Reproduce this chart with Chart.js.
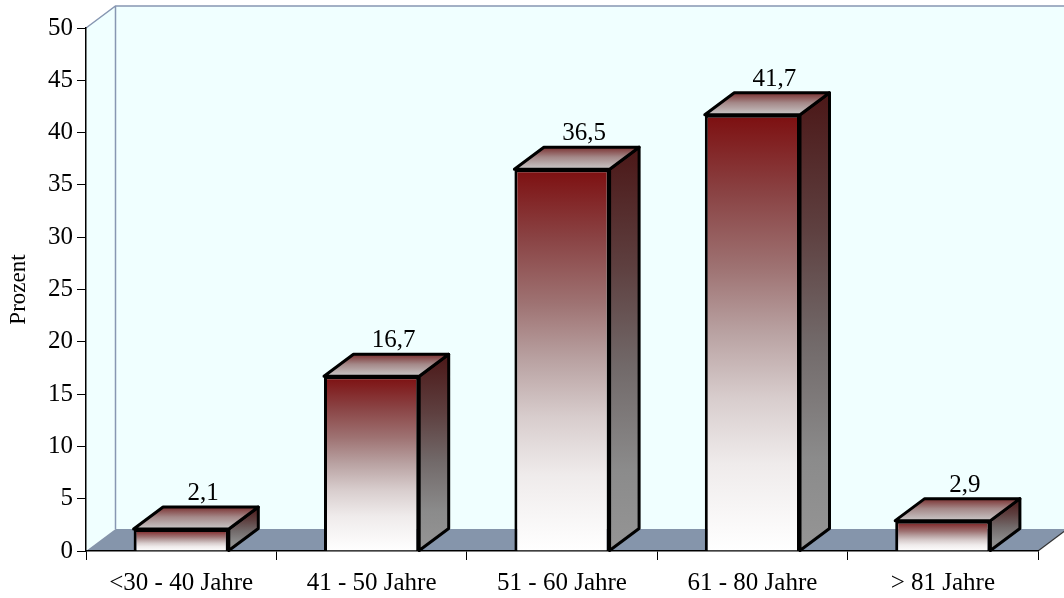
<!DOCTYPE html>
<html>
<head>
<meta charset="utf-8">
<title>Altersverteilung</title>
<script src="https://cdn.jsdelivr.net/npm/chart.js@4/dist/chart.umd.min.js"></script>
<style>
  html, body { margin: 0; padding: 0; background: #ffffff; }
  canvas { display: block; }
</style>
</head>
<body>
<canvas id="chart" width="1064" height="598"></canvas>
<script>
// Altersgruppen und Anteil in Prozent
const categories = ['<30 - 40 Jahre', '41 - 50 Jahre', '51 - 60 Jahre', '61 - 80 Jahre', '> 81 Jahre'];
const anteil = [2.1, 16.7, 36.5, 41.7, 2.9];
const yMin = 0;
const yMax = 50;
const yStep = 5;

// Tiefe der 3D-Darstellung (Versatz nach hinten)
const DX = 29.5;
const DY = -22;

const FONT = "'Liberation Serif', 'Times New Roman', serif";
const WALL = '#F0FFFF';
const WALL_EDGE = '#8797B2';
const FLOOR = '#8595AB';

function fmt(v) {
  return v.toFixed(1).replace('.', ',');
}

// Vorderseite: dunkelrot oben, nach unten weiß
function frontFill(ctx) {
  const chart = ctx.chart;
  if (!chart.chartArea || ctx.type !== 'data') return '#b09090';
  const y = chart.scales.y;
  const top = y.getPixelForValue(ctx.raw);
  const base = y.getPixelForValue(0);
  const g = chart.ctx.createLinearGradient(0, top, 0, base);
  g.addColorStop(0.00, '#7d0f10');
  g.addColorStop(0.18, '#8a4344');
  g.addColorStop(0.35, '#9e7272');
  g.addColorStop(0.50, '#b9a2a2');
  g.addColorStop(0.65, '#d8cdcd');
  g.addColorStop(0.80, '#efebeb');
  g.addColorStop(1.00, '#ffffff');
  return g;
}

// Raum: Rückwand, Seitenwand und Boden
const roomPlugin = {
  id: 'room',
  beforeDraw(chart) {
    const { ctx, chartArea: a } = chart;
    const L = a.left, R = a.right, T = a.top, B = a.bottom;
    ctx.save();
    // Rückwand
    ctx.fillStyle = WALL;
    ctx.fillRect(L + DX, T + DY, chart.width, B - T);
    // Seitenwand links
    ctx.beginPath();
    ctx.moveTo(L, T);
    ctx.lineTo(L + DX, T + DY);
    ctx.lineTo(L + DX, B + DY);
    ctx.lineTo(L, B);
    ctx.closePath();
    ctx.fill();
    // Boden
    ctx.fillStyle = FLOOR;
    ctx.beginPath();
    ctx.moveTo(L, B);
    ctx.lineTo(L + DX, B + DY);
    ctx.lineTo(R + DX, B + DY);
    ctx.lineTo(R, B);
    ctx.closePath();
    ctx.fill();
    // Kanten der Wand
    ctx.strokeStyle = WALL_EDGE;
    ctx.lineWidth = 1.5;
    ctx.beginPath();
    ctx.moveTo(L, T);
    ctx.lineTo(L + DX, T + DY);
    ctx.lineTo(chart.width + 5, T + DY);
    ctx.moveTo(L + DX, T + DY);
    ctx.lineTo(L + DX, B + DY);
    ctx.stroke();
    // rechte Bodenkante
    ctx.strokeStyle = '#333';
    ctx.lineWidth = 1.2;
    ctx.beginPath();
    ctx.moveTo(R, B);
    ctx.lineTo(R + DX, B + DY);
    ctx.stroke();
    ctx.restore();
  }
};

// Ober- und Seitenflächen der Säulen sowie Wertbeschriftung
const boxPlugin = {
  id: 'box3d',
  afterDatasetsDraw(chart) {
    const { ctx } = chart;
    const meta = chart.getDatasetMeta(0);
    const values = chart.data.datasets[0].data;
    ctx.save();
    ctx.lineJoin = 'round';
    ctx.lineWidth = 3;
    ctx.strokeStyle = '#000';
    meta.data.forEach((bar, i) => {
      const { x, y, base, width } = bar.getProps(['x', 'y', 'base', 'width'], true);
      const l = x - width / 2;
      const r = x + width / 2;

      // Seitenfläche
      const gs = ctx.createLinearGradient(0, y + DY, 0, base);
      gs.addColorStop(0.00, '#4b1717');
      gs.addColorStop(0.30, '#5e4040');
      gs.addColorStop(0.55, '#726a6a');
      gs.addColorStop(0.80, '#8b8b8b');
      gs.addColorStop(1.00, '#959595');
      ctx.fillStyle = gs;
      ctx.beginPath();
      ctx.moveTo(r, y);
      ctx.lineTo(r + DX, y + DY);
      ctx.lineTo(r + DX, base + DY);
      ctx.lineTo(r, base);
      ctx.closePath();
      ctx.fill();
      ctx.stroke();

      // Oberseite
      const gt = ctx.createLinearGradient(0, y + DY, 0, y);
      gt.addColorStop(0.00, '#7a3030');
      gt.addColorStop(0.45, '#a48888');
      gt.addColorStop(1.00, '#cac8c8');
      ctx.fillStyle = gt;
      ctx.beginPath();
      ctx.moveTo(l, y);
      ctx.lineTo(l + DX, y + DY);
      ctx.lineTo(r + DX, y + DY);
      ctx.lineTo(r, y);
      ctx.closePath();
      ctx.fill();
      ctx.stroke();

      // Wert
      ctx.fillStyle = '#000';
      ctx.font = '25px ' + FONT;
      ctx.textAlign = 'center';
      ctx.textBaseline = 'alphabetic';
      ctx.fillText(fmt(values[i]), x + 22, y + DY - 7);
    });
    ctx.restore();
  }
};

new Chart(document.getElementById('chart'), {
  type: 'bar',
  data: {
    labels: categories,
    datasets: [{
      data: anteil,
      backgroundColor: frontFill,
      borderColor: '#000',
      borderWidth: 3,
      barPercentage: 0.5,
      categoryPercentage: 1.0
    }]
  },
  options: {
    responsive: false,
    animation: false,
    layout: { padding: { top: 28, right: 26, left: 0, bottom: 0 } },
    plugins: {
      legend: { display: false },
      tooltip: { enabled: false }
    },
    scales: {
      x: {
        afterFit(scale) { scale.height = 47; },
        grid: {
          display: true,
          offset: true,
          drawOnChartArea: false,
          drawTicks: true,
          tickLength: 9,
          color: '#000',
          lineWidth: 1
        },
        border: { display: true, color: '#000', width: 1.5 },
        ticks: {
          color: '#000',
          padding: 8,
          maxRotation: 0,
          autoSkip: false,
          font: { family: FONT, size: 25 }
        }
      },
      y: {
        min: yMin,
        max: yMax,
        afterFit(scale) { scale.width = 86; },
        grid: {
          display: true,
          drawOnChartArea: false,
          drawTicks: true,
          tickLength: 9,
          color: '#000',
          lineWidth: 1
        },
        border: { display: true, color: '#000', width: 1.5 },
        ticks: {
          stepSize: yStep,
          color: '#000',
          padding: 4,
          font: { family: FONT, size: 25 }
        },
        title: {
          display: true,
          text: 'Prozent',
          color: '#000',
          padding: { top: 5, bottom: 0 },
          font: { family: FONT, size: 23 }
        }
      }
    }
  },
  plugins: [roomPlugin, boxPlugin]
});
</script>
</body>
</html>
